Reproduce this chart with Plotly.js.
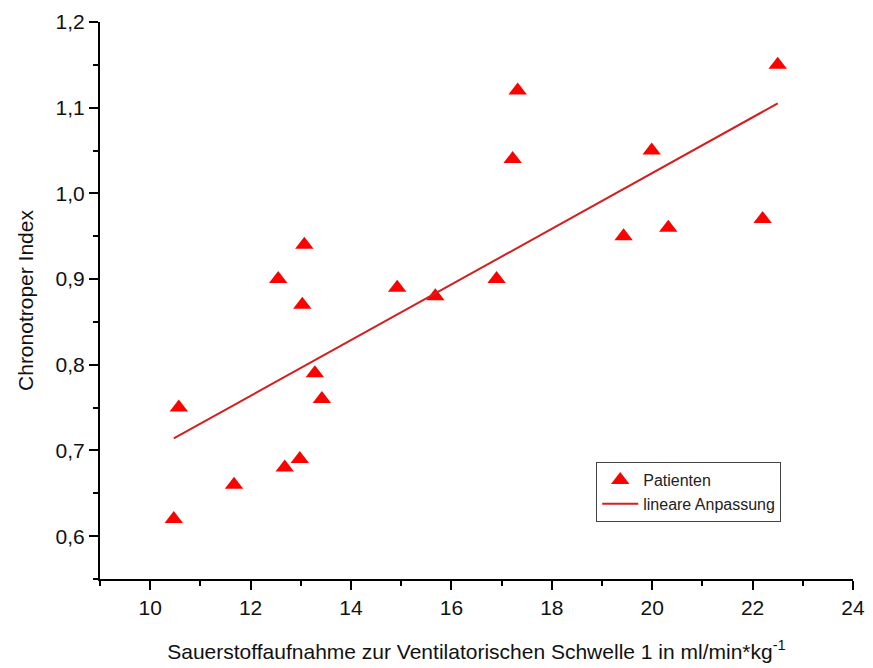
<!DOCTYPE html>
<html>
<head>
<meta charset="utf-8">
<script src="https://cdn.plot.ly/plotly-3.0.1.min.js"></script>
<style>html,body{margin:0;padding:0;background:#fff;}#chart{width:873px;height:668px;}</style>
</head>
<body>
<div id="chart"></div>
<script>
// Data
const vo2 = [10.47, 10.57, 11.67, 12.55, 12.68, 12.98, 13.03, 13.07, 13.28, 13.42, 14.92, 15.68, 16.90, 17.22, 17.32, 19.43, 19.99, 20.32, 22.20, 22.50];
const chronoIndex = [0.62, 0.75, 0.66, 0.90, 0.68, 0.69, 0.87, 0.94, 0.79, 0.76, 0.89, 0.88, 0.90, 1.04, 1.12, 0.95, 1.05, 0.96, 0.97, 1.15];
const fitX = [10.47, 22.50];
const fitY = [0.714, 1.105];
const seriesNames = ["Patienten", "lineare Anpassung"];
const xTitle = "Sauerstoffaufnahme zur Ventilatorischen Schwelle 1 in ml/min*kg<sup>-1</sup>";
const yTitle = "Chronotroper Index";

const traces = [
  {
    x: vo2, y: chronoIndex, type: 'scatter', mode: 'markers', name: seriesNames[0],
    marker: {symbol: 'triangle-up', size: 16, color: '#ff0000'}
  },
  {
    x: fitX, y: fitY, type: 'scatter', mode: 'lines', name: seriesNames[1],
    line: {color: '#d21f1f', width: 2}
  }
];

const font = 'Liberation Sans, Arial, sans-serif';
const layout = {
  width: 873, height: 668,
  margin: {l: 100, r: 20, t: 22, b: 89},
  paper_bgcolor: '#fff', plot_bgcolor: '#fff',
  separators: ',.',
  font: {family: font, color: '#000'},
  showlegend: true,
  legend: {
    x: 0.659, y: 0.21, xanchor: 'left', yanchor: 'top',
    bordercolor: '#444', borderwidth: 1, bgcolor: '#fff',
    font: {family: font, size: 16, color: '#222'},
    tracegroupgap: 0, itemwidth: 36
  },
  xaxis: {
    range: [9, 24], tick0: 10, dtick: 2, tickformat: 'd',
    showgrid: false, zeroline: false,
    showline: true, linecolor: '#000', linewidth: 2,
    ticks: 'outside', ticklen: 9, tickwidth: 2, tickcolor: '#000',
    minor: {dtick: 1, ticks: 'outside', ticklen: 5, tickwidth: 2, tickcolor: '#000', showgrid: false},
    tickfont: {family: font, size: 21, color: '#111'},
    title: {text: xTitle, font: {family: font, size: 21, color: '#111'}, standoff: 26}
  },
  yaxis: {
    range: [0.55, 1.2], tick0: 0.6, dtick: 0.1, tickformat: '.1f',
    showgrid: false, zeroline: false,
    showline: true, linecolor: '#000', linewidth: 2,
    ticks: 'outside', ticklen: 9, tickwidth: 2, tickcolor: '#000',
    minor: {dtick: 0.05, ticks: 'outside', ticklen: 5, tickwidth: 2, tickcolor: '#000', showgrid: false},
    tickfont: {family: font, size: 21, color: '#111'},
    title: {text: yTitle, font: {family: font, size: 21, color: '#111'}, standoff: 16}
  }
};

Plotly.newPlot('chart', traces, layout, {displayModeBar: false, staticPlot: true});
</script>
</body>
</html>
